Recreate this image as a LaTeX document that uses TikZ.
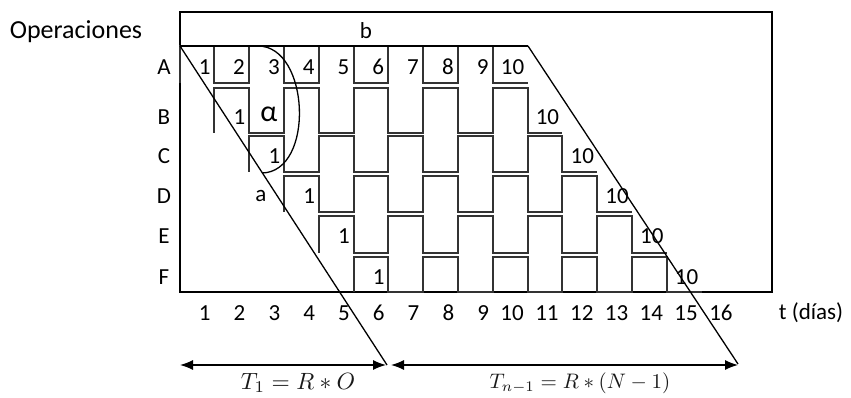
\documentclass[tikz,border=0pt]{standalone}
\usepackage{fontspec}
\setmainfont{Carlito}
\usetikzlibrary{arrows.meta}

% left edge of column k (k = 0..16), in px
\newcommand{\colx}[1]{179.5+34.8*(#1)}

\begin{document}
\begin{tikzpicture}[x=1pt, y=-1pt,
  frame/.style={draw=black, line width=2pt},
  wave/.style={draw=black!80, line width=2pt, line join=miter},
  diag/.style={draw=black, line width=1.3pt},
  span/.style={line width=1.3pt,
               {Latex[length=13pt,width=10pt]}-{Latex[length=13pt,width=10pt]}},
  lbl/.style={font=\fontsize{23}{27}\selectfont, inner sep=0pt},
  cellnum/.style={font=\fontsize{23}{27}\selectfont, inner sep=0pt, anchor=east},
  daynum/.style={font=\fontsize{23}{27}\selectfont, inner sep=0pt, anchor=east},
  formula/.style={inner sep=0pt, text=black!90},
]
\useasboundingbox (0,0) rectangle (851,398);

% Frame and header
\draw[frame] (180,12) rectangle (772,292);
\node[font=\fontsize{26}{30}\selectfont, inner sep=0pt] (ops) at (76,32) {Operaciones};
\node[lbl] (b) at (366,31) {b};

% Parallelogram corners
\coordinate (dA) at (180,46);
\coordinate (dB) at (528,46);
\coordinate (dAend) at (387,365);
\coordinate (dBend) at (738,364);

% Rows A..F: lot 1 starts one day later in each row
\foreach \r/\yt/\yb/\yl/\nm in {0/46/83/67/A, 1/88/133/117/B, 2/136/172/156/C,
                                 3/176/212/196/D, 4/216/253/236/E, 5/257/292/277/F}{
  \node[lbl] (lbl\nm) at (164,\yl) {\nm};
  \draw[wave] ({\colx{\r}},\yb)
    \foreach \j in {0,...,4}{
      -- ({\colx{\r+2*\j}},\yt) -- ({\colx{\r+2*\j+1}},\yt)
      -- ({\colx{\r+2*\j+1}},\yb) -- ({\colx{\r+2*\j+2}},\yb)
    };
  \node[cellnum] (n\nm1) at ({\colx{\r+1}-3.5},\yl) {1};
  \node[cellnum] (n\nm10) at ({\colx{\r+10}-3},\yl) {10};
}

% Row A: all lots
\foreach \k in {2,...,9}
  \node[cellnum] (nA\k) at ({\colx{\k}-4},67) {\k};

% Angle and side labels
\node[font=\fontsize{30}{34}\selectfont, inner sep=0pt] (alpha) at (269,114) {α};
\node[lbl] (a) at (261,196) {a};

% Day axis
\foreach \k in {1,...,16}
  \node[daynum] (day\k) at ({\colx{\k}-3.5},313) {\k};
\node[lbl] (t) at (811,313) {t (días)};

% Top side and slanted sides
\draw[line width=1.5pt] (dA) -- (dB);
\draw[diag] (dA) -- (dAend);
\draw[diag] (dB) -- (dBend);

% Angle arc
\coordinate (arcS) at (258,46);
\coordinate (arcE) at (262,173);
\draw[diag] (arcS) .. controls (310,46) and (315,172) .. (arcE);

% Time spans
\coordinate (s1l) at (180,365);
\coordinate (s1r) at (386,365);
\coordinate (s2l) at (391,365);
\coordinate (s2r) at (738,365);
\draw[span] (s1l) -- (s1r);
\draw[span] (s2l) -- (s2r);
\node[formula] (T1) at (298,383) {\scalebox{2.35}{$T_1 = R \ast O$}};
\node[formula] (Tn) at (580,383) {\scalebox{2.1}{$T_{n-1} = R \ast (N-1)$}};

\end{tikzpicture}
\end{document}
